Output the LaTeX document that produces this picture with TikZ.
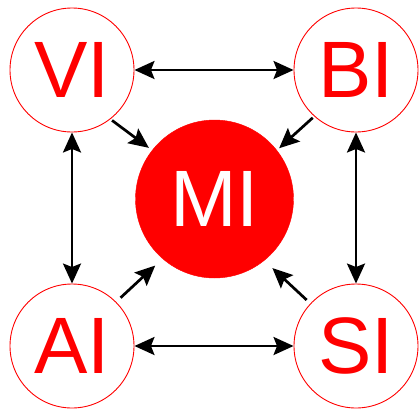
\documentclass[tikz,border=0pt]{standalone}
\usepackage{fontspec}
\setmainfont{Liberation Sans}
\usetikzlibrary{arrows.meta}
\definecolor{brightred}{RGB}{255,0,0}
\begin{document}
\begin{tikzpicture}[
  ring/.style={circle, draw=brightred, line width=0.9pt, fill=white,
    minimum size=124pt, inner sep=0pt, text=brightred,
    font=\fontsize{80}{80}\selectfont},
  core/.style={circle, fill=brightred, draw=brightred,
    minimum size=158pt, inner sep=0pt, text=white,
    font=\fontsize{80}{80}\selectfont},
  link/.style={line width=2.7pt, draw=black,
    arrows={Stealth[length=20pt,width=18pt,inset=3.5pt]-Stealth[length=20pt,width=18pt,inset=3.5pt]}},
  feed/.style={line width=2.7pt, draw=black,
    arrows={-Stealth[length=20pt,width=18pt,inset=3.5pt]}}]
\useasboundingbox (0pt,0pt) rectangle (420pt,-410pt);

\node[core] (MI) at (214.5pt,-199pt) {MI};
\node[ring] (VI) at (72pt,-70pt)  {VI};
\node[ring] (BI) at (356pt,-70pt) {BI};
\node[ring] (AI) at (72pt,-346pt) {AI};
\node[ring] (SI) at (356pt,-346pt) {SI};

% links around the square
\draw[link] (VI) -- (BI);
\draw[link] (AI) -- (SI);
\draw[link] (VI) -- (AI);
\draw[link] (BI) -- (SI);

% every outer circle feeds the centre
\draw[feed, shorten <=2pt, shorten >=4pt] (VI.-52) -- (MI.142);
\draw[feed, shorten <=2pt, shorten >=3pt] (BI.228) -- (MI.38);
\draw[feed, shorten <=6pt, shorten >=10pt] (AI.45) -- (MI.229);
\draw[feed, shorten <=5pt, shorten >=11pt] (SI.137) -- (MI.-51);
\end{tikzpicture}
\end{document}
